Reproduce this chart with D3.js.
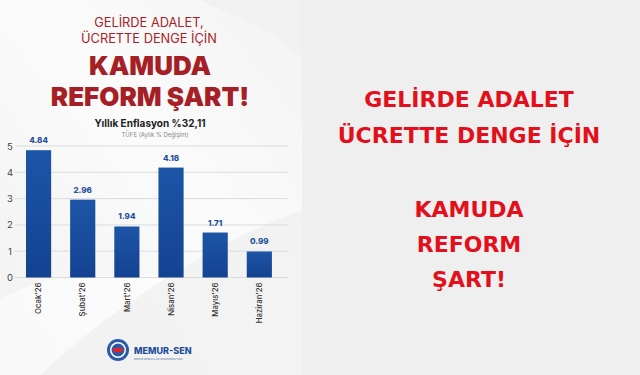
<!DOCTYPE html>
<html>
<head>
<meta charset="utf-8">
<script src="https://cdn.jsdelivr.net/npm/d3@7"></script>
<style>
  html, body { margin: 0; padding: 0; background: #efefef; }
  svg { display: block; }
</style>
</head>
<body>
<svg id="chart" width="640" height="375"></svg>
<script>
// data
const months = ["Ocak'26", "Şubat'26", "Mart'26", "Nisan'26", "Mayıs'26", "Haziran'26"]
const values = [4.84, 2.96, 1.94, 4.18, 1.71, 0.99]
const yTicks = [0, 1, 2, 3, 4, 5]

const posterTitle = ["GELİRDE ADALET,", "ÜCRETTE DENGE İÇİN"]
const posterHead = ["KAMUDA", "REFORM ŞART!"]
const chartTitle = "Yıllık Enflasyon %32,11"
const chartSub = "TÜFE (Aylık % Değişim)"
const sideLines = ["GELİRDE ADALET", "ÜCRETTE DENGE İÇİN", "", "KAMUDA", "REFORM", "ŞART!"]

const svg = d3.select("#chart")
const defs = svg.append("defs")

// poster background
const bg = defs.append("linearGradient").attr("id", "panel")
    .attr("x1", 0).attr("y1", 1).attr("x2", 1).attr("y2", 0)
bg.append("stop").attr("offset", "0%").attr("stop-color", "#f1f1f2")
bg.append("stop").attr("offset", "55%").attr("stop-color", "#fbfbfb")
bg.append("stop").attr("offset", "100%").attr("stop-color", "#f3f3f4")

const barGrad = defs.append("linearGradient").attr("id", "bar")
    .attr("x1", 0).attr("y1", 0).attr("x2", 0).attr("y2", 1)
barGrad.append("stop").attr("offset", "0%").attr("stop-color", "#1d55a6")
barGrad.append("stop").attr("offset", "100%").attr("stop-color", "#144292")

svg.append("rect").attr("x", 0).attr("y", 0).attr("width", 302).attr("height", 375)
    .attr("fill", "url(#panel)")
// soft swoosh shapes
svg.append("path").attr("d", "M0,300 C80,250 180,300 302,250 L302,375 L0,375 Z")
    .attr("fill", "#ffffff").attr("opacity", 0.5)
svg.append("path").attr("d", "M40,375 C120,300 220,240 302,210 L302,375 Z")
    .attr("fill", "#ececed").attr("opacity", 0.6)
svg.append("path").attr("d", "M200,0 C240,20 280,30 302,60 L302,0 Z")
    .attr("fill", "#f0f0f1").attr("opacity", 0.8)

const darkRed = "#a61f26"
const head = "Inter, 'Noto Sans', sans-serif"

// poster titles
svg.selectAll(".ptitle").data(posterTitle).join("text")
    .attr("class", "ptitle")
    .attr("x", 149).attr("y", (d, i) => 27 + i * 16)
    .attr("text-anchor", "middle")
    .attr("font-family", head).attr("font-size", 12.8).attr("font-weight", 400)
    .attr("fill", darkRed)
    .text(d => d)

svg.selectAll(".phead").data(posterHead).join("text")
    .attr("class", "phead")
    .attr("x", 150).attr("y", (d, i) => 75 + i * 31)
    .attr("text-anchor", "middle")
    .attr("font-family", head).attr("font-size", 26).attr("font-weight", 900)
    .attr("fill", darkRed)
    .text(d => d)

svg.append("text").attr("x", 150).attr("y", 127).attr("text-anchor", "middle")
    .attr("font-family", head).attr("font-size", 10).attr("font-weight", 700)
    .attr("fill", "#222").text(chartTitle)
svg.append("text").attr("x", 155).attr("y", 137).attr("text-anchor", "middle")
    .attr("font-family", head).attr("font-size", 6).attr("fill", "#888").text(chartSub)

// bar chart
const x = d3.scaleBand().domain(months).range([16.5, 281.4])
    .paddingInner(0.43).paddingOuter(0.215)
const y = d3.scaleLinear().domain([0, 5]).range([277.5, 146])

const grid = svg.append("g")
grid.selectAll("line").data(yTicks).join("line")
    .attr("x1", 15).attr("x2", 288)
    .attr("y1", d => y(d)).attr("y2", d => y(d))
    .attr("stroke", "#dcdcdc").attr("stroke-width", 1)

const yAxis = svg.append("g").attr("transform", "translate(15,0)")
    .call(d3.axisLeft(y).tickValues(yTicks).tickFormat(d3.format("d")).tickSize(0).tickPadding(0))
yAxis.select(".domain").remove()
yAxis.selectAll("text").attr("font-family", head).attr("font-size", 9.5)
    .attr("fill", "#444").attr("text-anchor", "middle").attr("x", -5)

svg.append("g").selectAll("rect").data(values).join("rect")
    .attr("x", (d, i) => x(months[i]))
    .attr("y", d => y(d))
    .attr("width", x.bandwidth())
    .attr("height", d => y(0) - y(d))
    .attr("fill", "url(#bar)")

svg.append("g").selectAll("text").data(values).join("text")
    .attr("x", (d, i) => x(months[i]) + x.bandwidth() / 2)
    .attr("y", d => y(d) - 7)
    .attr("text-anchor", "middle")
    .attr("font-family", head).attr("font-size", 8).attr("font-weight", 800)
    .attr("fill", "#1e4f9a")
    .text(d => d.toFixed(2))

const xAxis = svg.append("g").attr("transform", `translate(0,${y(0)})`)
    .call(d3.axisBottom(x).tickSize(0).tickPadding(0))
xAxis.select(".domain").remove()
xAxis.selectAll("text")
    .attr("font-family", head).attr("font-size", 7.8).attr("font-weight", 500)
    .attr("fill", "#333")
    .attr("transform", "rotate(-90)")
    .attr("text-anchor", "end")
    .attr("x", -5).attr("y", 0).attr("dy", "0.35em")

// logo
const logo = svg.append("g").attr("transform", "translate(118,350)")
logo.append("circle").attr("r", 11).attr("fill", "#2a5aa8")
logo.append("circle").attr("r", 8).attr("fill", "#ffffff")
logo.append("circle").attr("r", 6.5).attr("fill", "#2a5aa8")
logo.append("ellipse").attr("rx", 5.5).attr("ry", 2.4).attr("fill", "#d9262c")
svg.append("text").attr("x", 134).attr("y", 354)
    .attr("font-family", head).attr("font-size", 9).attr("font-weight", 800)
    .attr("fill", "#1e4f9a").text("MEMUR-SEN")
svg.append("text").attr("x", 134).attr("y", 359.5)
    .attr("font-family", head).attr("font-size", 2.4)
    .attr("fill", "#4d6fa8").text("MEMUR SENDİKALARI KONFEDERASYONU")

// right side text
svg.selectAll(".side").data(sideLines).join("text")
    .attr("class", "side")
    .attr("x", 469)
    .attr("y", (d, i) => i < 2 ? 107 + i * 36 : 217 + (i - 3) * 35)
    .attr("text-anchor", "middle")
    .attr("font-family", "'DejaVu Sans', Verdana, sans-serif")
    .attr("font-size", 22).attr("font-weight", 700)
    .attr("fill", "#e3101b")
    .text(d => d)
</script>
</body>
</html>
